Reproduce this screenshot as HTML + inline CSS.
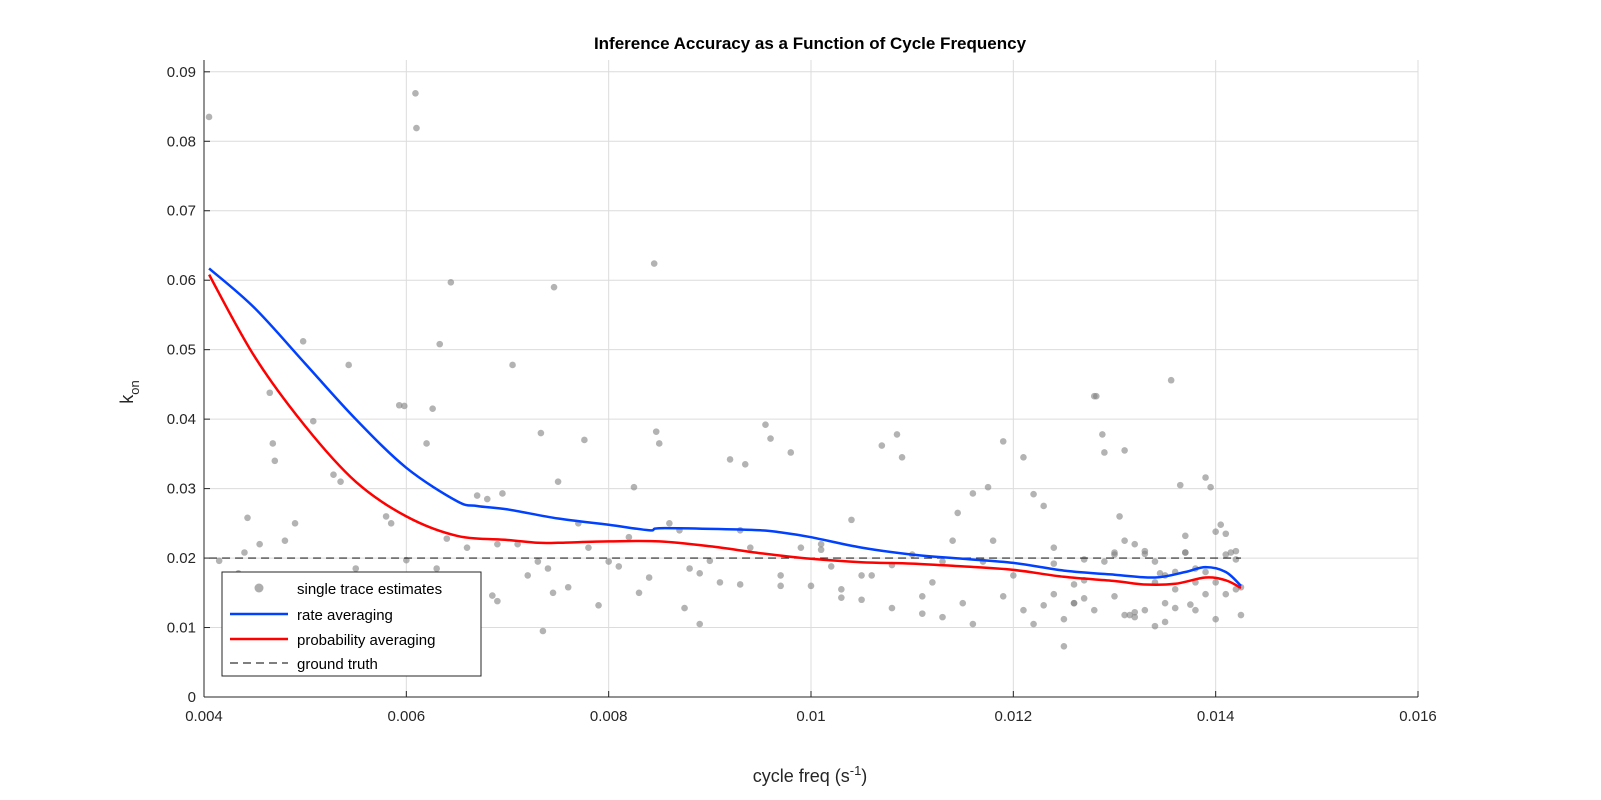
<!DOCTYPE html>
<html><head><meta charset="utf-8"><style>
body{margin:0;background:#fff;}
svg{display:block;font-family:"Liberation Sans",Arial,sans-serif;}
</style></head><body>
<svg id="chart" width="1601" height="800" xmlns="http://www.w3.org/2000/svg">
<rect width="1601" height="800" fill="#fff"/>
<g id="grid"></g>
<g id="scatter"></g>
<g id="lines"></g>
<g id="axes"></g>
<text x="810" y="49" text-anchor="middle" font-size="17" font-weight="bold" fill="#000">Inference Accuracy as a Function of Cycle Frequency</text>
<text x="810" y="782" text-anchor="middle" font-size="18" fill="#262626">cycle freq (s<tspan dy="-7" font-size="13">-1</tspan><tspan dy="7">)</tspan></text>
<text transform="translate(133,392) rotate(-90)" text-anchor="middle" font-size="18" fill="#262626">k<tspan dy="6" font-size="13">on</tspan></text>
<g>
<rect x="222" y="572" width="259" height="104" fill="#fff" stroke="#262626" stroke-width="1"/>
<g><circle cx="259" cy="588" r="4.5" fill="#999" opacity="0.8"/><text x="297" y="594" font-size="15" fill="#000">single trace estimates</text></g>
<g><line x1="230" y1="614" x2="288" y2="614" stroke="#0040ff" stroke-width="2.5"/><text x="297" y="620" font-size="15" fill="#000">rate averaging</text></g>
<g><line x1="230" y1="639" x2="288" y2="639" stroke="#ff0000" stroke-width="2.5"/><text x="297" y="645" font-size="15" fill="#000">probability averaging</text></g>
<g><line x1="230" y1="663" x2="288" y2="663" stroke="#333" stroke-width="1.3" stroke-dasharray="8,5"/><text x="297" y="669" font-size="15" fill="#000">ground truth</text></g>
</g>
</svg>
<script>
const xTicks=[0.004,0.006,0.008,0.01,0.012,0.014,0.016];
const xTickLabels=["0.004","0.006","0.008","0.01","0.012","0.014","0.016"];
const yTicks=[0,0.01,0.02,0.03,0.04,0.05,0.06,0.07,0.08,0.09];
const yTickLabels=["0","0.01","0.02","0.03","0.04","0.05","0.06","0.07","0.08","0.09"];
const groundTruth=0.02;
const rateX=[0.00405,0.0045,0.005,0.0055,0.006,0.0065,0.0067,0.007,0.0075,0.008,0.0084,0.0085,0.009,0.0095,0.0097,0.01,0.0105,0.011,0.0115,0.012,0.0125,0.013,0.0134,0.0137,0.0139,0.0141,0.01425];
const rateY=[0.0617,0.056,0.048,0.040,0.033,0.0282,0.0275,0.027,0.0257,0.0248,0.024,0.0243,0.0242,0.024,0.0237,0.023,0.0215,0.0205,0.0199,0.0193,0.0182,0.0176,0.0172,0.018,0.0187,0.018,0.016];
const probX=[0.00405,0.0045,0.005,0.0055,0.006,0.0065,0.007,0.0073,0.0075,0.008,0.0085,0.009,0.0095,0.01,0.0105,0.011,0.0115,0.012,0.0125,0.013,0.0133,0.0136,0.0139,0.0141,0.01425];
const probY=[0.0608,0.049,0.039,0.031,0.026,0.0232,0.0226,0.0222,0.0222,0.0224,0.0224,0.0217,0.0207,0.0199,0.0194,0.0192,0.0188,0.0183,0.0173,0.0167,0.0162,0.0163,0.0172,0.0168,0.0157];
const ptX=[0.00405,0.00609,0.0061,0.00845,0.00746,0.00644,0.01356,0.01282,0.00705,0.00543,0.00498,0.00633,0.00508,0.00434,0.00443,0.00465,0.00468,0.0047,0.00528,0.00535,0.0058,0.00585,0.00593,0.0062,0.00626,0.00598,0.0067,0.00685,0.0069,0.00695,0.00733,0.00735,0.00745,0.0075,0.00776,0.0079,0.00825,0.0083,0.00847,0.0085,0.0086,0.00875,0.0089,0.009,0.0092,0.00935,0.00955,0.0096,0.0098,0.01,0.0101,0.0103,0.0105,0.0107,0.01085,0.0109,0.0111,0.0113,0.01145,0.0116,0.01175,0.0119,0.0121,0.0122,0.0123,0.0124,0.0125,0.0126,0.0127,0.0128,0.01288,0.0129,0.013,0.01305,0.0131,0.01315,0.0132,0.0133,0.0134,0.01345,0.0135,0.0136,0.01365,0.0137,0.01375,0.0138,0.0139,0.01395,0.014,0.01405,0.0141,0.01415,0.0142,0.01425,0.00455,0.0049,0.0055,0.0057,0.0064,0.0066,0.0068,0.0071,0.0072,0.0074,0.0077,0.008,0.0082,0.0087,0.0088,0.0091,0.0093,0.0094,0.0097,0.0099,0.0102,0.0104,0.0106,0.0108,0.011,0.0112,0.0114,0.0115,0.0117,0.0118,0.012,0.0121,0.0122,0.0124,0.0126,0.0127,0.0128,0.0129,0.013,0.0131,0.0132,0.0133,0.0134,0.0135,0.0136,0.0137,0.0138,0.0139,0.014,0.0141,0.0142,0.01425,0.0136,0.0134,0.0132,0.0131,0.0126,0.0124,0.0119,0.0116,0.0113,0.0111,0.0108,0.0105,0.0103,0.0101,0.0097,0.0093,0.0089,0.0084,0.0081,0.0078,0.0076,0.0073,0.0069,0.0067,0.0063,0.006,0.0058,0.0048,0.0044,0.00415,0.0139,0.014,0.0141,0.0142,0.0138,0.0137,0.0135,0.0133,0.013,0.0127,0.0125,0.0123];
const ptY=[0.0835,0.0869,0.0819,0.0624,0.059,0.0597,0.0456,0.0433,0.0478,0.0478,0.0512,0.0508,0.0397,0.0178,0.0258,0.0438,0.0365,0.034,0.032,0.031,0.026,0.025,0.042,0.0365,0.0415,0.0419,0.029,0.0146,0.0138,0.0293,0.038,0.0095,0.015,0.031,0.037,0.0132,0.0302,0.015,0.0382,0.0365,0.025,0.0128,0.0105,0.0196,0.0342,0.0335,0.0392,0.0372,0.0352,0.016,0.022,0.0155,0.014,0.0362,0.0378,0.0345,0.012,0.0115,0.0265,0.0293,0.0302,0.0368,0.0345,0.0292,0.0275,0.0215,0.0073,0.0162,0.0198,0.0433,0.0378,0.0352,0.0145,0.026,0.0355,0.0118,0.022,0.0206,0.0195,0.0178,0.0175,0.018,0.0305,0.0208,0.0133,0.0165,0.0316,0.0302,0.0238,0.0248,0.0235,0.0208,0.0198,0.0158,0.022,0.025,0.0185,0.0155,0.0228,0.0215,0.0285,0.022,0.0175,0.0185,0.025,0.0195,0.023,0.024,0.0185,0.0165,0.024,0.0215,0.016,0.0215,0.0188,0.0255,0.0175,0.019,0.0205,0.0165,0.0225,0.0135,0.0195,0.0225,0.0175,0.0125,0.0105,0.0148,0.0135,0.0168,0.0125,0.0195,0.0205,0.0225,0.0115,0.0125,0.0165,0.0108,0.0155,0.0232,0.0125,0.0148,0.0112,0.0205,0.0155,0.0118,0.0128,0.0102,0.0122,0.0118,0.0135,0.0192,0.0145,0.0105,0.0195,0.0145,0.0128,0.0175,0.0143,0.0212,0.0175,0.0162,0.0178,0.0172,0.0188,0.0215,0.0158,0.0195,0.022,0.0162,0.0185,0.0197,0.0158,0.0225,0.0208,0.0196,0.018,0.0165,0.0148,0.021,0.0185,0.0208,0.0135,0.021,0.0208,0.0142,0.0112,0.0132,0.0145,0.0225,0.0192,0.0185,0.0172,0.0162,0.0185,0.0152];
const L=204,R=1418,T=60,B=697,xMin=0.004,xMax=0.016,yMin=0,yMax=0.0917;
const sx=v=>L+(v-xMin)/(xMax-xMin)*(R-L);
const sy=v=>B-(v-yMin)/(yMax-yMin)*(B-T);
const NS="http://www.w3.org/2000/svg";
function mk(tag,attrs,parent){const e=document.createElementNS(NS,tag);for(const k in attrs)e.setAttribute(k,attrs[k]);parent.appendChild(e);return e;}
const grid=document.getElementById('grid'),axes=document.getElementById('axes'),sc=document.getElementById('scatter'),ln=document.getElementById('lines');
xTicks.forEach((t,i)=>{
 const g=mk('line',{x1:sx(t),x2:sx(t),y1:T,y2:B,stroke:'#dcdcdc','stroke-width':1},grid);
 
 
 const tk=mk('line',{x1:sx(t),x2:sx(t),y1:B,y2:B-6,stroke:'#262626'},axes);
 
 
 const tx=mk('text',{x:sx(t),y:B+24,'text-anchor':'middle','font-size':15,fill:'#262626'},axes);
 tx.textContent=xTickLabels[i];
 
 
});
yTicks.forEach((t,i)=>{
 const g=mk('line',{x1:L,x2:R,y1:sy(t),y2:sy(t),stroke:'#dcdcdc','stroke-width':1},grid);
 
 
 const tk=mk('line',{x1:L,x2:L+6,y1:sy(t),y2:sy(t),stroke:'#262626'},axes);
 
 
 const tx=mk('text',{x:L-8,y:sy(t)+5,'text-anchor':'end','font-size':15,fill:'#262626'},axes);
 tx.textContent=yTickLabels[i];
 
 
});
const xa=mk('line',{x1:L,x2:R,y1:B,y2:B,stroke:'#262626'},axes);


const ya=mk('line',{x1:L,x2:L,y1:T,y2:B,stroke:'#262626'},axes);


ptX.forEach((x,i)=>{
 const c=mk('circle',{cx:sx(x),cy:sy(ptY[i]),r:3.3,fill:'#808080','fill-opacity':0.6},sc);
 
 
});
const gt=mk('line',{x1:sx(rateX[0]),x2:sx(rateX[rateX.length-1]),y1:sy(groundTruth),y2:sy(groundTruth),stroke:'#262626','stroke-width':1.2,'stroke-dasharray':'8,5'},ln);


function path(xs,ys){
 const p=xs.map((x,i)=>[sx(x),sy(ys[i])]);
 let d='M'+p[0][0].toFixed(1)+','+p[0][1].toFixed(1);
 for(let i=0;i<p.length-1;i++){
  const p0=p[Math.max(0,i-1)],p1=p[i],p2=p[i+1],p3=p[Math.min(p.length-1,i+2)];
  const c1=[p1[0]+(p2[0]-p0[0])/6,p1[1]+(p2[1]-p0[1])/6];
  const c2=[p2[0]-(p3[0]-p1[0])/6,p2[1]-(p3[1]-p1[1])/6];
  d+='C'+c1.map(v=>v.toFixed(1)).join(',')+' '+c2.map(v=>v.toFixed(1)).join(',')+' '+p2.map(v=>v.toFixed(1)).join(',');
 }
 return d;
}
const bl=mk('path',{d:path(rateX,rateY),fill:'none',stroke:'#0040ff','stroke-width':2.5,'stroke-linejoin':'round'},ln);


const rl=mk('path',{d:path(probX,probY),fill:'none',stroke:'#ff0000','stroke-width':2.5,'stroke-linejoin':'round'},ln);


</script>
</body></html>
